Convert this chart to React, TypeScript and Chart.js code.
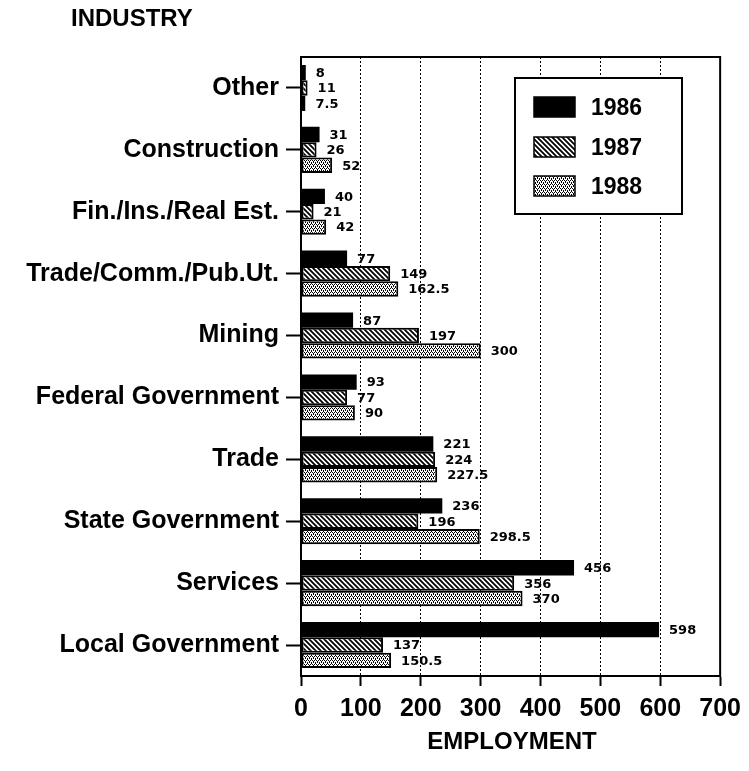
import React, { useEffect, useRef } from "react";
import { Chart, registerables } from "chart.js";

Chart.register(...registerables);

const industries = [
  "Other",
  "Construction",
  "Fin./Ins./Real Est.",
  "Trade/Comm./Pub.Ut.",
  "Mining",
  "Federal Government",
  "Trade",
  "State Government",
  "Services",
  "Local Government",
];
const years = ["1986", "1987", "1988"];
const emp1986 = [8, 31, 40, 77, 87, 93, 221, 236, 456, 598];
const emp1987 = [11, 26, 21, 149, 197, 77, 224, 196, 356, 137];
const emp1988 = [7.5, 52, 42, 162.5, 300, 90, 227.5, 298.5, 370, 150.5];
const xMin = 0;
const xMax = 700;
const xStep = 100;
const xTitle = "EMPLOYMENT";
const yTitle = "INDUSTRY";

const FONT = '"Liberation Sans", Arial, sans-serif';

function makeHatch(): CanvasPattern | string {
  const c = document.createElement("canvas");
  c.width = 5;
  c.height = 5;
  const g = c.getContext("2d");
  if (!g) return "#888";
  g.fillStyle = "#fff";
  g.fillRect(0, 0, 5, 5);
  g.strokeStyle = "#000";
  g.lineWidth = 1.8;
  g.beginPath();
  g.moveTo(-1, -1);
  g.lineTo(6, 6);
  g.moveTo(-1, 4);
  g.lineTo(1, 6);
  g.moveTo(4, -1);
  g.lineTo(6, 1);
  g.stroke();
  const p = g.createPattern(c, "repeat");
  return p || "#888";
}

function makeDots(): CanvasPattern | string {
  const c = document.createElement("canvas");
  c.width = 4;
  c.height = 4;
  const g = c.getContext("2d");
  if (!g) return "#ccc";
  g.fillStyle = "#fff";
  g.fillRect(0, 0, 4, 4);
  g.fillStyle = "#000";
  g.fillRect(0, 0, 1, 1);
  g.fillRect(2, 0, 1, 1);
  g.fillRect(1, 1, 1, 1);
  g.fillRect(1, 2, 1, 1);
  g.fillRect(3, 2, 1, 1);
  g.fillRect(3, 3, 1, 1);
  const p = g.createPattern(c, "repeat");
  return p || "#ccc";
}

export default function App() {
  const ref = useRef<HTMLCanvasElement | null>(null);

  useEffect(() => {
    document.body.style.margin = "0";
    const canvas = ref.current;
    if (!canvas) return;
    const hatch = makeHatch();
    const dots = makeDots();
    const fills: any[] = ["#000", hatch, dots];

    const frameAndLabels = {
      id: "frameAndLabels",
      afterDatasetsDraw(chart: any) {
        const ctx = chart.ctx;
        const a = chart.chartArea;
        ctx.save();
        ctx.fillStyle = "#000";
        ctx.font = 'bold 13px "DejaVu Sans", sans-serif';
        ctx.textAlign = "left";
        ctx.textBaseline = "middle";
        chart.data.datasets.forEach((ds: any, di: number) => {
          const meta = chart.getDatasetMeta(di);
          meta.data.forEach((el: any, i: number) => {
            ctx.fillText(String(ds.data[i]), el.x + 10, el.y + 1);
          });
        });
        ctx.strokeStyle = "#000";
        ctx.lineWidth = 2;
        ctx.strokeRect(a.left, a.top, a.right - a.left, a.bottom - a.top);
        ctx.restore();
      },
      afterDraw(chart: any) {
        const ctx = chart.ctx;
        ctx.save();
        ctx.fillStyle = "#000";
        ctx.font = `bold 24px ${FONT}`;
        ctx.textBaseline = "middle";
        ctx.textAlign = "left";
        ctx.fillText(yTitle, 71, 19);
        ctx.textAlign = "center";
        ctx.fillText(xTitle, 512, 742);

        const lx = 515, ly = 78, lw = 167, lh = 136;
        ctx.fillStyle = "#fff";
        ctx.fillRect(lx, ly, lw, lh);
        ctx.strokeStyle = "#000";
        ctx.lineWidth = 2;
        ctx.strokeRect(lx, ly, lw, lh);
        const rows = [107, 147, 186];
        years.forEach((yr, i) => {
          const cy = rows[i];
          ctx.fillStyle = fills[i];
          ctx.fillRect(534, cy - 10, 41, 20);
          ctx.strokeStyle = "#000";
          ctx.lineWidth = 1.5;
          ctx.strokeRect(534, cy - 10, 41, 20);
          ctx.fillStyle = "#000";
          ctx.font = `bold 23px ${FONT}`;
          ctx.textAlign = "left";
          ctx.textBaseline = "middle";
          ctx.fillText(yr, 591, cy + 2);
        });
        ctx.restore();
      },
    };

    const mk = (label: string, data: number[], i: number) => ({
      label,
      data,
      backgroundColor: fills[i],
      borderColor: "#000",
      borderWidth: i === 0 ? 0 : 2,
      borderSkipped: false,
      categoryPercentage: 0.745,
      barPercentage: 1,
    });

    const chart = new Chart(canvas, {
      type: "bar",
      data: {
        labels: industries,
        datasets: [
          mk(years[0], emp1986, 0),
          mk(years[1], emp1987, 1),
          mk(years[2], emp1988, 2),
        ],
      },
      options: {
        indexAxis: "y",
        animation: false,
        responsive: false,
        devicePixelRatio: 1,
        layout: { padding: { left: 0, right: 27, top: 57, bottom: 0 } },
        plugins: {
          legend: { display: false },
          tooltip: { enabled: false },
        },
        scales: {
          x: {
            min: xMin,
            max: xMax,
            ticks: {
              stepSize: xStep,
              color: "#000",
              font: { family: FONT, weight: "bold", size: 25 },
              padding: 8,
              maxRotation: 0,
              autoSkip: false,
            },
            grid: {
              color: "#000",
              lineWidth: 1,
              tickLength: 10,
              tickColor: "#000",
              tickWidth: 2,
              tickBorderDash: [],
            },
            border: { display: true, color: "#000", width: 2, dash: [2, 2] },
            afterFit: (s: any) => {
              s.height = 95;
            },
          },
          y: {
            ticks: {
              color: "#000",
              font: { family: FONT, weight: "bold", size: 25 },
              padding: 7,
              autoSkip: false,
            },
            grid: {
              offset: false,
              drawOnChartArea: false,
              tickLength: 15,
              tickWidth: 2,
              color: "#000",
            },
            border: { display: true, color: "#000", width: 2 },
            afterFit: (s: any) => {
              s.width = 301;
            },
          },
        },
      } as any,
      plugins: [frameAndLabels],
    });

    return () => {
      chart.destroy();
    };
  }, []);

  return (
    <div style={{ width: 749, height: 771, background: "#fff" }}>
      <canvas ref={ref} width={749} height={771} style={{ display: "block" }} />
    </div>
  );
}
